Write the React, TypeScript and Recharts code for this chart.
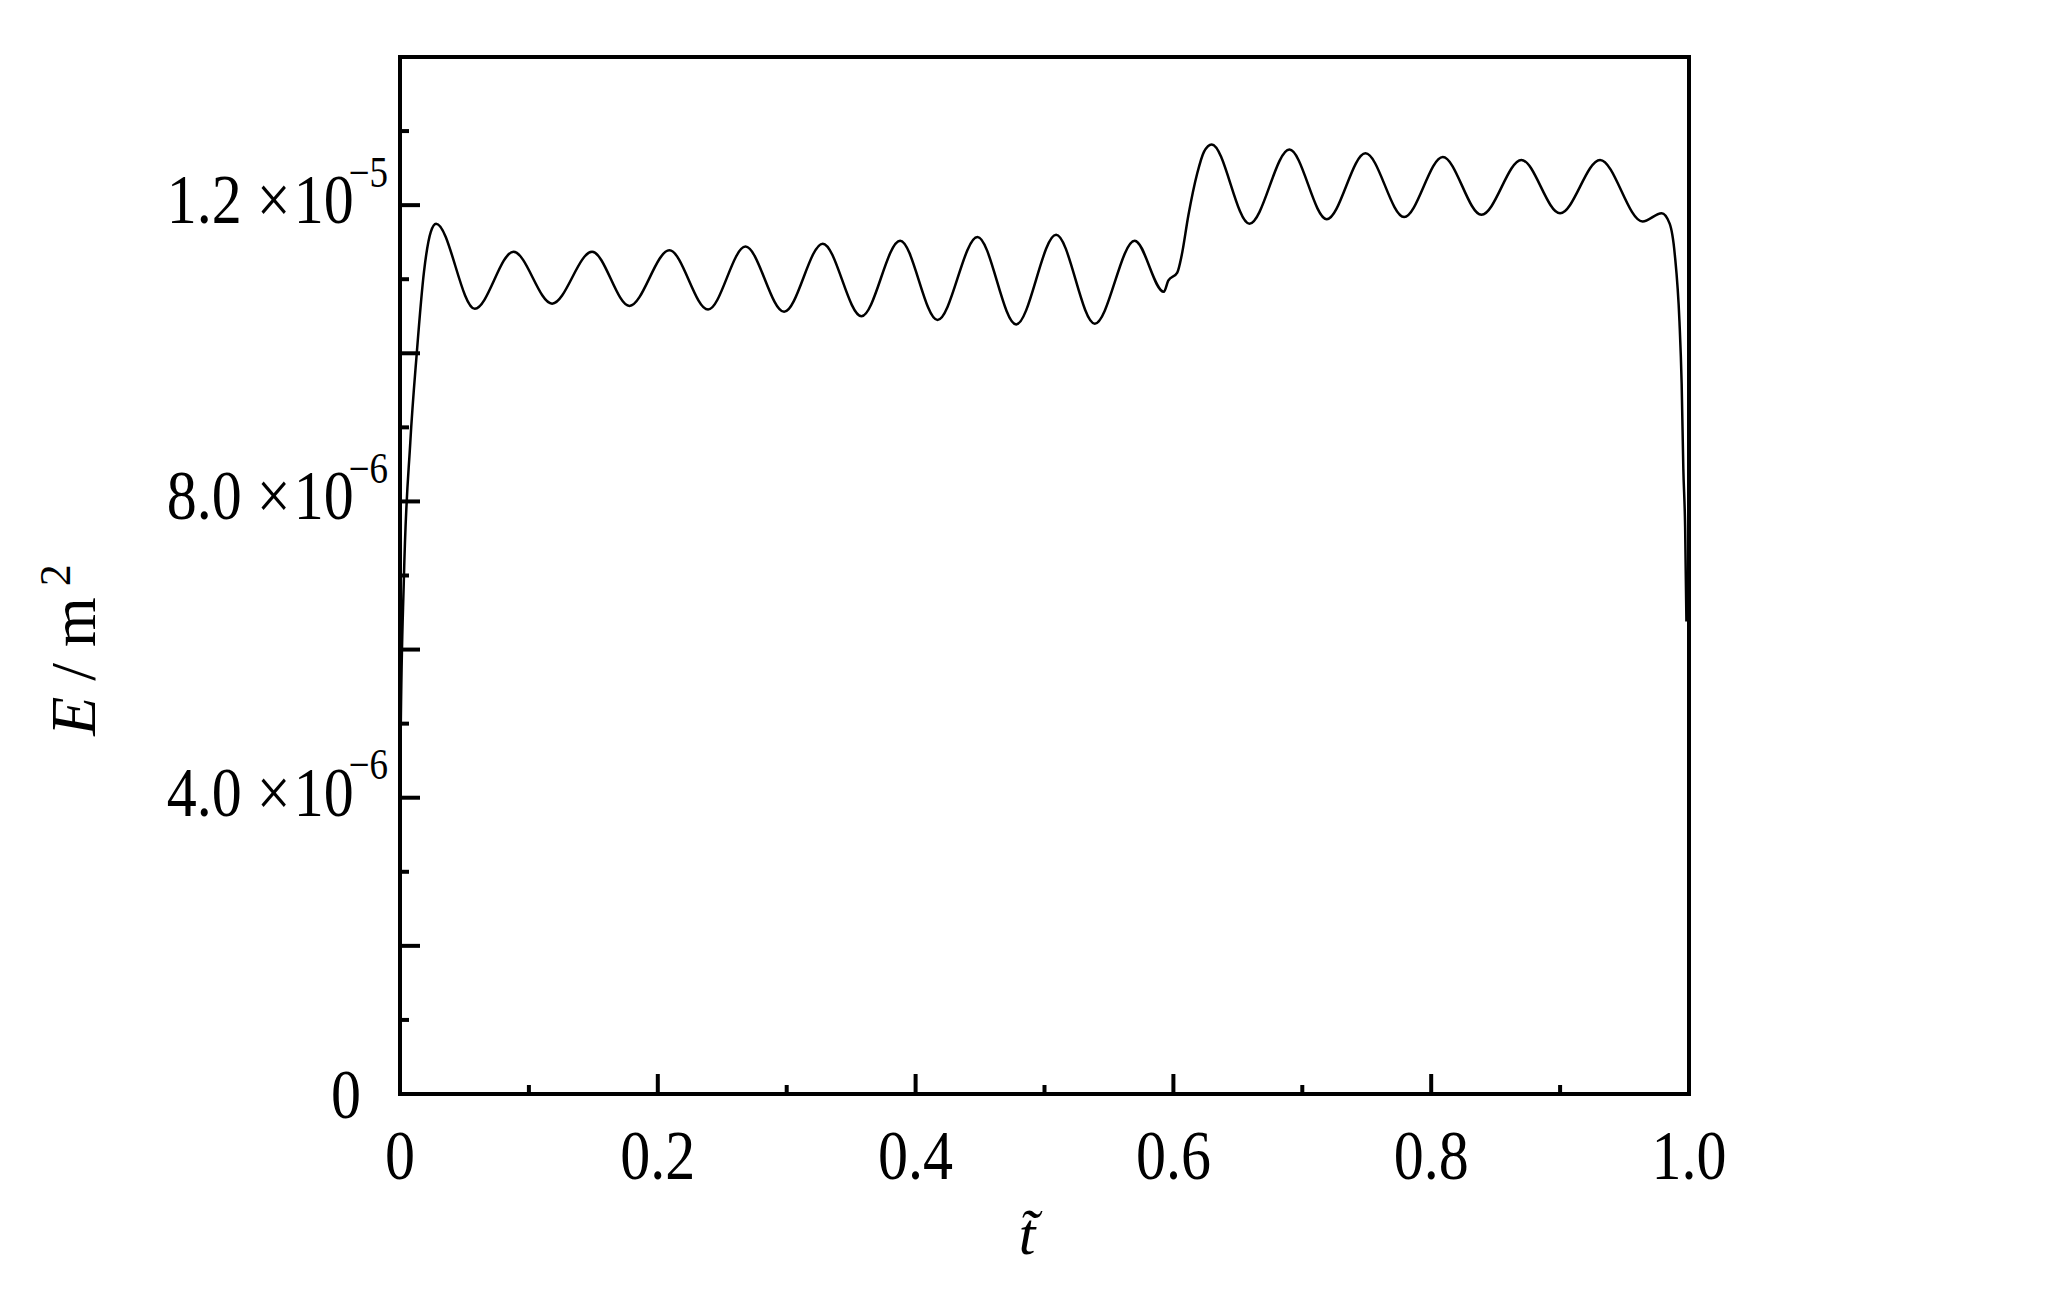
import React from 'react';
import { LineChart, Line, XAxis, YAxis, ReferenceLine } from 'recharts';

// normalized time t~
const T_VALUES = [
  0.0, 0.0005, 0.003, 0.008, 0.013, 0.0186, 0.0239, 0.028,
  0.058, 0.088, 0.118, 0.149, 0.178, 0.209, 0.239, 0.268, 0.298, 0.328,
  0.358, 0.388, 0.417, 0.448, 0.478, 0.509, 0.539, 0.57, 0.5926, 0.596,
  0.603, 0.6064, 0.6116, 0.6185, 0.6237, 0.6297, 0.659, 0.69, 0.719, 0.749,
  0.779, 0.809, 0.839, 0.87, 0.9, 0.931, 0.964, 0.9788, 0.985, 0.989,
  0.9926, 0.9943, 0.9956, 0.997, 0.998,
];

// E in units of 1e-6 m^2
const E_VALUES = [
  3.4, 4.8, 6.95, 8.8, 10.0, 11.1, 11.64, 11.75,
  10.6, 11.37, 10.67, 11.37, 10.64, 11.39, 10.59, 11.44, 10.56, 11.48,
  10.5, 11.52, 10.45, 11.57, 10.39, 11.6, 10.4, 11.52, 10.83, 10.98,
  11.09, 11.32, 11.86, 12.43, 12.72, 12.82, 11.75, 12.75, 11.81, 12.7,
  11.84, 12.65, 11.87, 12.61, 11.89, 12.61, 11.78, 11.89, 11.75, 11.33,
  10.43, 9.59, 8.44, 7.65, 6.38,
];

const X_DOMAIN = [0, 1];
const Y_DOMAIN = [0, 14];
const X_TICKS = [0, 0.1, 0.2, 0.3, 0.4, 0.5, 0.6, 0.7, 0.8, 0.9, 1.0];
const X_TICK_LABELS = ['0', '0.2', '0.4', '0.6', '0.8', '1.0'];

const Y_TICKS = [0, 1, 2, 3, 4, 5, 6, 7, 8, 9, 10, 11, 12, 13, 14];
const Y_LABEL_VALUES = [0, 4, 8, 12];
const Y_LABEL_MANTISSA = ['0', '4.0', '8.0', '1.2'];
const Y_LABEL_EXPONENT = ['', '\u22126', '\u22126', '\u22125'];

const data = T_VALUES.map((t, i) => ({ t, e: E_VALUES[i] }));

const FONT = "'Liberation Serif', 'Times New Roman', serif";
const STRETCH = 1.17;

const XTick = (props: any) => {
  const { x, y, index } = props;
  const long = index % 2 === 0;
  return (
    <g>
      <line x1={x} x2={x} y1={y} y2={y - (long ? 20 : 9)} stroke="#000" strokeWidth={4} />
      {long && (
        <g transform={`translate(${x},${y + 85}) scale(1,${STRETCH})`}>
          <text x={0} y={0} textAnchor="middle" fontFamily={FONT} fontSize={60} fill="#000">
            {X_TICK_LABELS[index / 2]}
          </text>
        </g>
      )}
    </g>
  );
};

const YTick = (props: any) => {
  const { x, y, index, payload } = props;
  const long = index % 2 === 0;
  const li = Y_LABEL_VALUES.indexOf(payload.value);
  let label: React.ReactNode = null;
  if (li === 0) {
    label = (
      <g transform={`translate(${x - 39},${y + 24}) scale(1,${STRETCH})`}>
        <text x={0} y={0} textAnchor="end" fontFamily={FONT} fontSize={60} fill="#000">
          {Y_LABEL_MANTISSA[li]}
        </text>
      </g>
    );
  } else if (li > 0) {
    label = (
      <g transform={`translate(${x - 12},${y + 18}) scale(1,${STRETCH})`}>
        <text x={0} y={0} textAnchor="end" fontFamily={FONT} fontSize={60} fill="#000">
          <tspan>{Y_LABEL_MANTISSA[li]}</tspan>
          <tspan>{' \u00d7'}</tspan>
          <tspan dx={3}>10</tspan>
          <tspan dx={-5} dy={-31} fontSize={37}>{Y_LABEL_EXPONENT[li]}</tspan>
        </text>
      </g>
    );
  }
  return (
    <g>
      <line x1={x} x2={x + (long ? 20 : 9)} y1={y} y2={y} stroke="#000" strokeWidth={4} />
      {label}
    </g>
  );
};

const YTitle = () => (
  <text
    transform="translate(95,650) rotate(-90)"
    textAnchor="middle"
    fontFamily={FONT}
    fontSize={64}
    fill="#000"
  >
    <tspan fontStyle="italic">E</tspan>
    <tspan>{' / m'}</tspan>
    <tspan fontSize={44} dy={-25}>{' 2'}</tspan>
  </text>
);

const XTitle = () => (
  <text x={1027} y={1254} textAnchor="middle" fontFamily={FONT} fontStyle="italic" fontSize={60} fill="#000">
    {'t\u0303'}
  </text>
);

const axisLineStyle = { stroke: '#000', strokeWidth: 4, strokeLinecap: 'square' as const };

export default function App() {
  return (
    <div style={{ position: 'absolute', left: 0, top: 0, width: 2062, height: 1289, background: '#fff' }}>
      <LineChart
        width={2062}
        height={1289}
        data={data}
        margin={{ top: 57, right: 373, bottom: 75, left: 0 }}
      >
        <XAxis
          dataKey="t"
          type="number"
          domain={X_DOMAIN}
          ticks={X_TICKS}
          interval={0}
          height={120}
          tickSize={0}
          tickMargin={0}
          tickLine={false}
          axisLine={axisLineStyle}
          tick={<XTick />}
          label={{ content: () => <XTitle /> }}
        />
        <YAxis
          type="number"
          domain={Y_DOMAIN}
          ticks={Y_TICKS}
          interval={0}
          width={400}
          tickSize={0}
          tickMargin={0}
          tickLine={false}
          axisLine={axisLineStyle}
          tick={<YTick />}
          label={{ content: () => <YTitle /> }}
        />
        <ReferenceLine y={Y_DOMAIN[1]} stroke="#000" strokeWidth={4} strokeLinecap="square" />
        <ReferenceLine x={X_DOMAIN[1]} stroke="#000" strokeWidth={4} strokeLinecap="square" />
        <Line
          type="monotone"
          dataKey="e"
          stroke="#000"
          strokeWidth={2.5}
          dot={false}
          activeDot={false}
          isAnimationActive={false}
        />
      </LineChart>
    </div>
  );
}
